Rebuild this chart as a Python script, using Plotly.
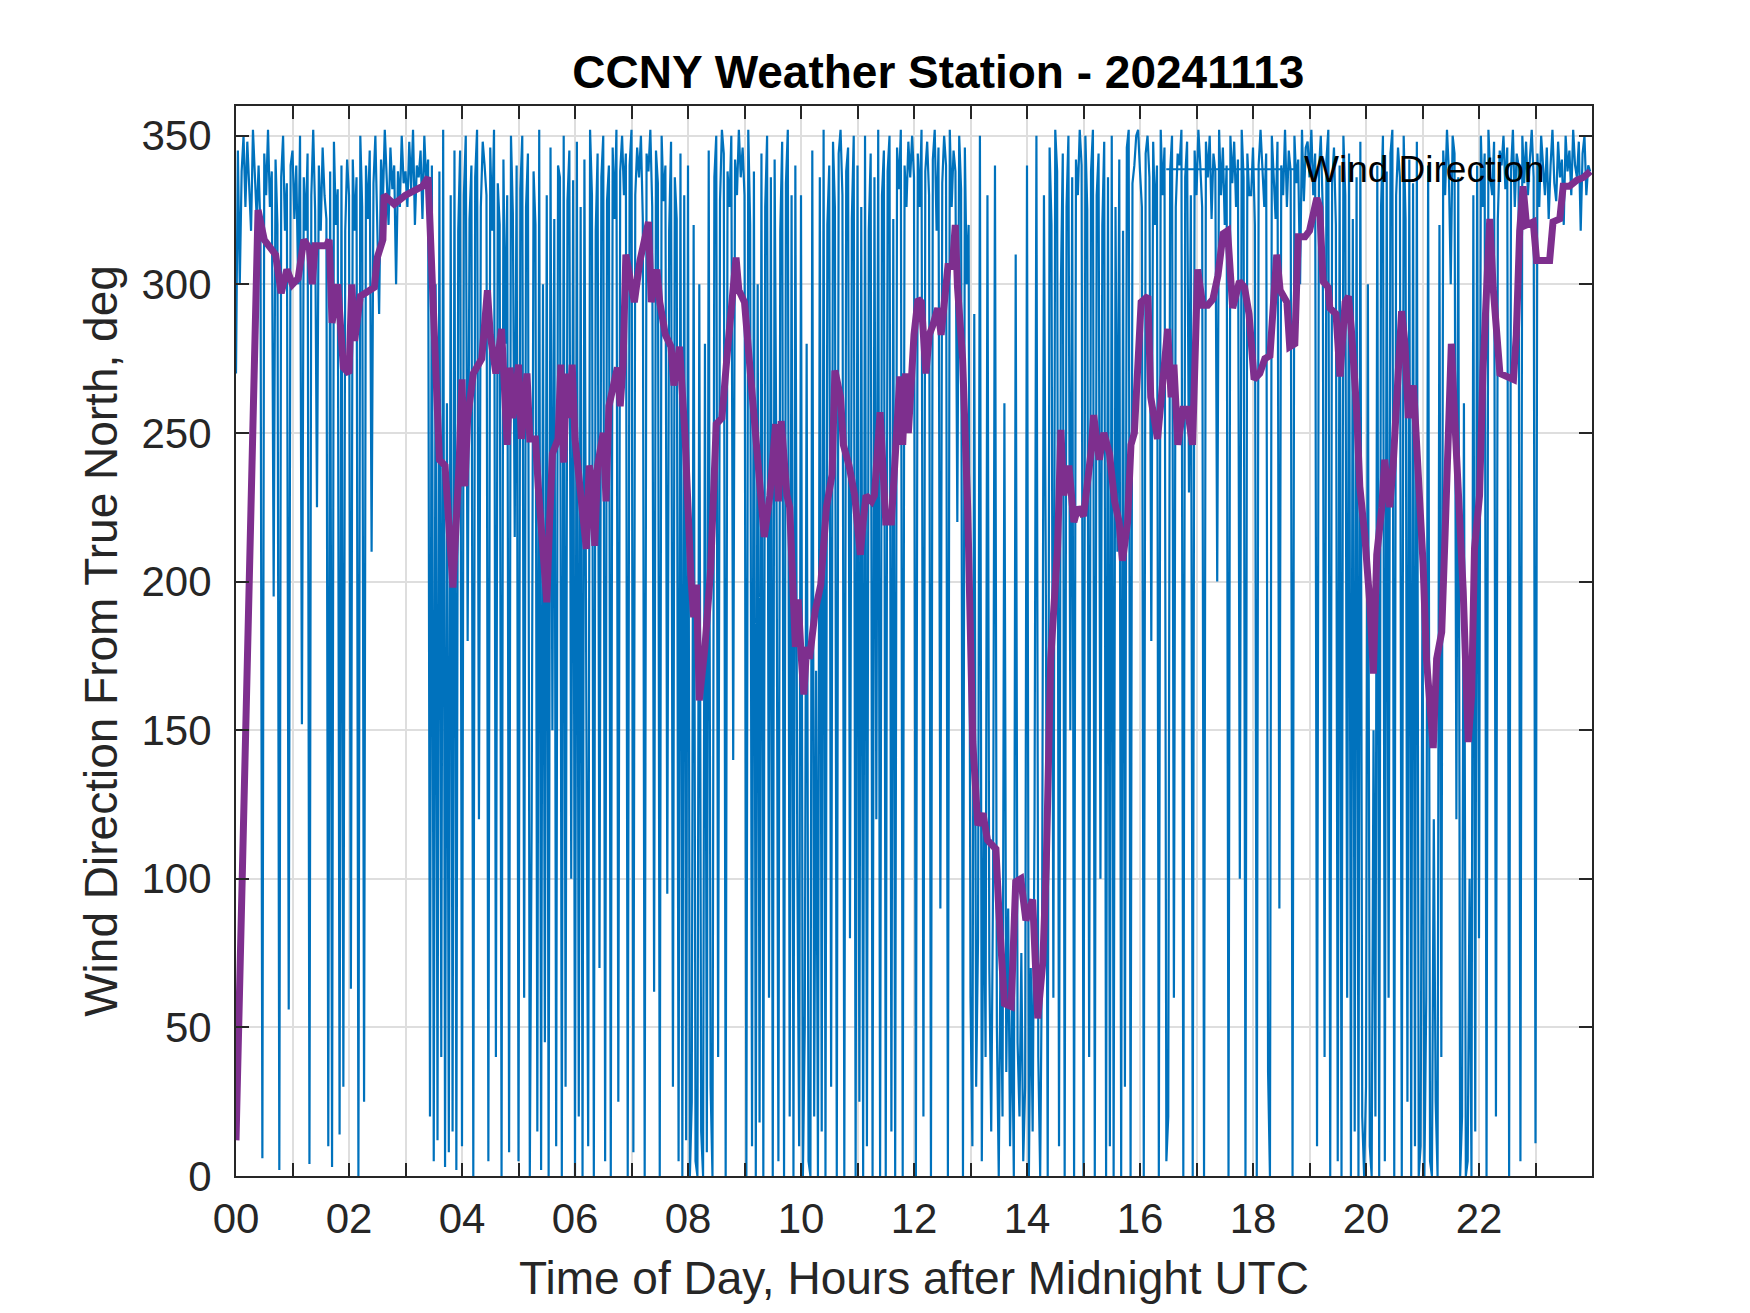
import plotly.graph_objects as go

# wind direction, 2-minute samples, one row per hour (00..23 UTC)
wind_dir = [
    270, 345, 300, 338, 350, 326, 348, 330, 318, 352, 335, 322, 340, 318, 6, 344, 330, 352, 326, 338, 195, 342, 320, 2, 336, 350, 318, 334, 56, 340,
    345, 322, 340, 300, 350, 152, 336, 318, 344, 4, 330, 352, 325, 225, 340, 318, 346, 330, 322, 10, 338, 3, 348, 320, 332, 14, 340, 30, 318, 342,
    330, 63, 342, 318, 336, 0, 350, 326, 25, 340, 322, 345, 210, 334, 350, 318, 290, 342, 328, 352, 336, 320, 346, 332, 340, 300, 338, 326, 350, 334,
    338, 326, 348, 332, 352, 320, 340, 336, 345, 322, 350, 334, 342, 20, 340, 5, 300, 12, 338, 40, 352, 3, 260, 8, 330, 15, 345, 2, 318, 345,
    10, 330, 350, 180, 322, 340, 0, 336, 352, 120, 326, 348, 340, 330, 5, 346, 318, 352, 40, 334, 320, 0, 342, 280, 330, 8, 350, 324, 215, 340,
    5, 332, 350, 60, 326, 344, 0, 120, 338, 320, 15, 352, 2, 300, 45, 330, 0, 346, 150, 322, 10, 340, 336, 0, 350, 30, 328, 345, 100, 335,
    0, 348, 20, 326, 0, 342, 160, 10, 352, 330, 0, 318, 344, 70, 336, 350, 5, 328, 340, 0, 346, 322, 352, 25, 338, 350, 330, 344, 0, 340,
    352, 8, 330, 346, 336, 350, 322, 0, 344, 338, 352, 326, 62, 345, 334, 0, 350, 328, 340, 95, 318, 348, 30, 336, 322, 5, 344, 0, 330, 12,
    340, 0, 25, 320, 5, 0, 300, 15, 0, 280, 8, 345, 30, 0, 336, 350, 40, 328, 352, 344, 0, 338, 326, 350, 140, 342, 330, 352, 336, 346,
    330, 0, 352, 320, 10, 338, 0, 300, 18, 344, 0, 326, 350, 60, 336, 0, 342, 230, 5, 318, 348, 0, 334, 352, 20, 330, 0, 340, 110, 10,
    330, 0, 50, 280, 5, 0, 345, 20, 170, 0, 336, 15, 352, 0, 320, 340, 30, 348, 326, 0, 344, 352, 330, 0, 338, 346, 80, 322, 350, 0,
    340, 25, 326, 0, 350, 10, 318, 344, 0, 336, 120, 352, 0, 330, 345, 0, 338, 350, 15, 322, 0, 346, 332, 352, 0, 340, 326, 348, 336, 350,
    336, 0, 344, 326, 352, 20, 338, 348, 330, 0, 342, 352, 318, 346, 90, 334, 350, 340, 0, 352, 326, 345, 338, 220, 350, 332, 0, 346, 300, 320,
    60, 10, 290, 30, 80, 350, 5, 120, 40, 330, 70, 15, 100, 340, 50, 0, 80, 20, 260, 35, 90, 10, 60, 0, 310, 45, 20, 75, 5, 30,
    340, 0, 70, 15, 120, 350, 40, 0, 80, 330, 200, 0, 346, 320, 60, 352, 338, 10, 300, 344, 0, 326, 350, 150, 336, 0, 342, 330, 352, 340,
    0, 350, 325, 40, 338, 352, 0, 330, 344, 100, 320, 348, 0, 336, 10, 350, 0, 326, 210, 342, 0, 318, 30, 346, 352, 0, 334, 340, 350, 352,
    338, 326, 0, 344, 350, 336, 180, 348, 320, 340, 0, 352, 330, 346, 5, 20, 338, 350, 60, 326, 344, 340, 352, 0, 336, 348, 230, 330, 0, 345,
    330, 352, 340, 326, 0, 348, 336, 350, 322, 344, 338, 200, 352, 330, 346, 320, 340, 0, 350, 334, 348, 326, 342, 100, 352, 336, 0, 344, 330, 330,
    346, 320, 0, 340, 352, 338, 326, 344, 35, 0, 350, 336, 322, 348, 90, 340, 330, 352, 326, 345, 338, 0, 350, 334, 342, 300, 352, 328, 346, 348,
    336, 352, 330, 344, 10, 338, 350, 326, 40, 342, 352, 0, 334, 346, 320, 5, 340, 0, 350, 330, 60, 344, 0, 322, 15, 336, 0, 348, 20, 0,
    30, 300, 10, 0, 150, 20, 340, 0, 326, 350, 5, 338, 60, 344, 352, 0, 330, 346, 336, 0, 350, 322, 25, 342, 0, 334, 10, 348, 0, 10,
    200, 0, 60, 340, 5, 0, 120, 25, 0, 320, 40, 345, 330, 352, 338, 300, 350, 344, 120, 336, 0, 20, 260, 0, 5, 100, 0, 330, 15, 340,
    80, 350, 326, 344, 0, 352, 336, 330, 348, 20, 322, 345, 340, 350, 332, 346, 0, 338, 352, 326, 344, 340, 5, 350, 334, 348, 330, 342, 352, 336,
    11, 344, 326, 350, 338, 330, 346, 322, 340, 352, 334, 328, 348, 336, 342, 320, 350, 338, 345, 330, 352, 340, 336, 348, 318, 344, 350, 330, 340, 338,
]
wind_hours = [i / 30 for i in range(len(wind_dir))]

# smoothed wind direction (purple), read at its turning points
avg_hours = [
    0.0, 0.39, 0.5, 0.7, 0.8, 0.9, 1.0, 1.1, 1.2, 1.3, 1.35, 1.4, 1.6, 1.65, 1.7, 1.8, 1.9, 2.0, 2.05, 2.1,
    2.2, 2.35, 2.45, 2.5, 2.6, 2.62, 2.8, 3.0, 3.3, 3.4, 3.5, 3.6, 3.7, 3.84, 3.95, 4.0, 4.05, 4.1, 4.2, 4.35,
    4.45, 4.5, 4.6, 4.7, 4.8, 4.85, 4.9, 5.0, 5.05, 5.1, 5.15, 5.2, 5.3, 5.35, 5.45, 5.5, 5.55, 5.6, 5.7, 5.75,
    5.8, 5.85, 5.9, 5.95, 6.0, 6.1, 6.2, 6.25, 6.3, 6.35, 6.4, 6.5, 6.55, 6.6, 6.75, 6.8, 6.85, 6.9, 7.0, 7.05,
    7.15, 7.25, 7.3, 7.35, 7.45, 7.5, 7.6, 7.7, 7.75, 7.85, 7.95, 8.05, 8.1, 8.15, 8.2, 8.3, 8.4, 8.5, 8.6, 8.7,
    8.8, 8.85, 8.9, 9.0, 9.1, 9.2, 9.3, 9.35, 9.45, 9.55, 9.6, 9.65, 9.75, 9.8, 9.9, 9.95, 10.0, 10.05, 10.1, 10.15,
    10.25, 10.35, 10.45, 10.55, 10.6, 10.7, 10.75, 10.85, 10.95, 11.05, 11.1, 11.15, 11.25, 11.3, 11.4, 11.45, 11.5, 11.6, 11.7, 11.75,
    11.8, 11.85, 11.9, 12.0, 12.07, 12.13, 12.21, 12.27, 12.33, 12.42, 12.48, 12.54, 12.6, 12.68, 12.73, 12.77, 12.86, 12.95, 13.04, 13.13,
    13.22, 13.3, 13.45, 13.5, 13.6, 13.72, 13.8, 13.89, 13.98, 14.1, 14.19, 14.28, 14.34, 14.42, 14.54, 14.6, 14.65, 14.74, 14.83, 14.9,
    15.0, 15.13, 15.18, 15.28, 15.36, 15.46, 15.55, 15.63, 15.69, 15.78, 15.84, 15.9, 15.96, 16.02, 16.14, 16.19, 16.31, 16.37, 16.49, 16.55,
    16.6, 16.67, 16.76, 16.84, 16.93, 17.02, 17.11, 17.2, 17.29, 17.38, 17.47, 17.55, 17.64, 17.76, 17.85, 17.93, 18.02, 18.12, 18.21, 18.3,
    18.35, 18.42, 18.48, 18.6, 18.65, 18.74, 18.8, 18.92, 19.0, 19.13, 19.18, 19.24, 19.33, 19.36, 19.47, 19.54, 19.63, 19.69, 19.74, 19.83,
    19.89, 19.98, 20.07, 20.13, 20.19, 20.28, 20.33, 20.42, 20.48, 20.54, 20.63, 20.69, 20.75, 20.84, 20.9, 20.96, 21.01, 21.07, 21.13, 21.19,
    21.25, 21.34, 21.4, 21.45, 21.51, 21.57, 21.63, 21.72, 21.81, 21.87, 21.92, 22.01, 22.07, 22.13, 22.19, 22.25, 22.31, 22.37, 22.61, 22.66,
    22.72, 22.78, 22.84, 22.96, 23.02, 23.08, 23.25, 23.31, 23.43, 23.49, 23.6, 23.73, 23.85, 23.97,
]
avg_dir = [
    12, 325, 315, 310, 297, 305, 300, 302, 315, 312, 300, 313, 313, 315, 287, 300, 272, 270, 300, 281,
    296, 298, 299, 309, 315, 330, 327, 330, 333, 336, 290, 241, 239, 198, 240, 268, 232, 255, 270, 275,
    298, 283, 270, 285, 246, 272, 255, 273, 248, 260, 270, 248, 248, 232, 207, 193, 220, 243, 248, 273,
    240, 270, 255, 273, 248, 229, 211, 239, 235, 212, 239, 250, 227, 259, 272, 259, 273, 310, 298, 294,
    308, 318, 321, 294, 305, 294, 283, 279, 266, 279, 248, 202, 188, 199, 160, 178, 204, 253, 255, 278,
    296, 309, 298, 294, 271, 250, 229, 215, 229, 253, 227, 254, 229, 225, 178, 194, 176, 162, 178, 174,
    190, 199, 225, 236, 271, 262, 246, 239, 229, 209, 220, 229, 227, 229, 257, 236, 220, 220, 250, 269,
    246, 270, 250, 283, 295, 294, 270, 283, 286, 292, 283, 293, 306, 306, 320, 299, 275, 225, 146, 118,
    122, 113, 110, 90, 58, 57, 99, 100, 86, 93, 53, 72, 104, 174, 211, 251, 229, 239, 220, 225,
    222, 243, 256, 241, 250, 243, 227, 220, 207, 220, 246, 250, 276, 294, 296, 262, 248, 259, 285, 262,
    273, 246, 258, 258, 246, 305, 293, 293, 295, 303, 317, 318, 292, 301, 299, 290, 268, 270, 275, 276,
    290, 310, 298, 294, 279, 280, 316, 316, 318, 329, 326, 301, 299, 292, 290, 269, 294, 296, 285, 259,
    232, 215, 192, 169, 209, 225, 241, 225, 239, 262, 291, 280, 255, 266, 248, 229, 206, 174, 160, 144,
    174, 183, 216, 241, 280, 255, 234, 197, 146, 162, 211, 229, 271, 299, 322, 299, 284, 270, 268, 283,
    318, 333, 320, 321, 308, 308, 308, 321, 322, 333, 333, 335, 336, 338,
]

hour_ticks = list(range(24))
hour_labels = [f"{h:02d}" if h % 2 == 0 else "" for h in hour_ticks]
dir_ticks = [0, 50, 100, 150, 200, 250, 300, 350]

BLUE = "#0072BD"
PURPLE = "#7E2F8E"
INK = "#262626"
FONT = "Liberation Sans, Arial, sans-serif"

fig = go.Figure()
fig.add_trace(go.Scatter(x=wind_hours, y=wind_dir, mode="lines", name="Wind Direction",
                         line=dict(color=BLUE, width=2.2), showlegend=False))
fig.add_trace(go.Scatter(x=avg_hours, y=avg_dir, mode="lines",
                         line=dict(color=PURPLE, width=7), showlegend=False))

# matlab style legend: long sample line and plain text, no box
fig.add_shape(type="line", xref="paper", yref="paper", x0=0.686, x1=0.783, y0=0.941, y1=0.941,
              line=dict(color=BLUE, width=2))
fig.add_annotation(text="Wind Direction", xref="paper", yref="paper", x=0.786, y=0.941,
                   xanchor="left", yanchor="middle", showarrow=False,
                   font=dict(family=FONT, size=37, color="black"))

axis_common = dict(
    showline=True, linecolor=INK, linewidth=2, mirror="ticks",
    ticks="inside", ticklen=13, tickwidth=2, tickcolor=INK,
    showgrid=True, gridcolor="#dedede", gridwidth=1.5, zeroline=False,
    tickfont=dict(family=FONT, size=42, color=INK),
)

fig.update_xaxes(range=[0, 24], tickvals=hour_ticks, ticktext=hour_labels,
                 ticklabelstandoff=5,
                 title=dict(text="Time of Day, Hours after Midnight UTC", standoff=20,
                            font=dict(family=FONT, size=46, color=INK)),
                 **axis_common)
fig.update_yaxes(range=[0, 360], tickvals=dir_ticks,
                 ticklabelstandoff=14,
                 title=dict(text="Wind Direction From True North, deg", standoff=9,
                            font=dict(family=FONT, size=46, color=INK)),
                 **axis_common)

fig.update_layout(
    width=1750, height=1313,
    margin=dict(l=228, r=166, t=98, b=145, autoexpand=False),
    paper_bgcolor="white", plot_bgcolor="white",
    title=dict(text="<b>CCNY Weather Station - 20241113</b>", x=0.518, xref="paper",
               y=1 - 64 / 1313, yref="container", xanchor="center", yanchor="middle",
               font=dict(family=FONT, size=46, color="black")),
)

fig.write_html("out.html")
